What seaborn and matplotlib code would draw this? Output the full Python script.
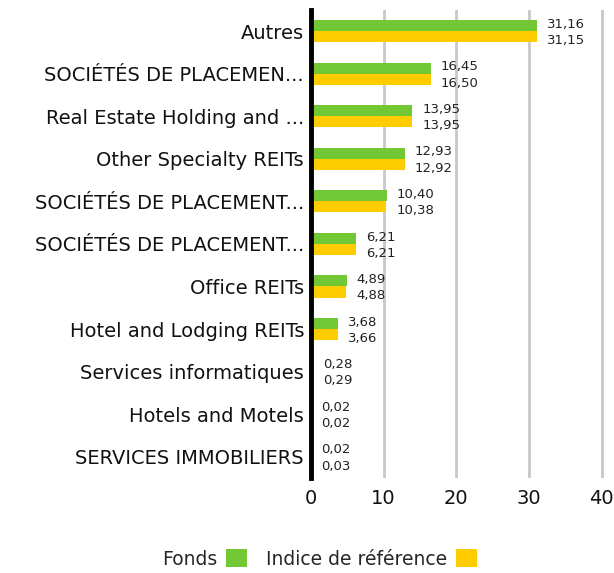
import pandas as pd
import matplotlib
matplotlib.use("Agg")
import matplotlib.pyplot as plt
import seaborn as sns
from matplotlib.patches import Patch

# data
categories = ["Autres", "SOCIÉTÉS DE PLACEMEN...", "Real Estate Holding and ...",
              "Other Specialty REITs", "SOCIÉTÉS DE PLACEMENT...", "SOCIÉTÉS DE PLACEMENT...",
              "Office REITs", "Hotel and Lodging REITs", "Services informatiques",
              "Hotels and Motels", "SERVICES IMMOBILIERS"]
fonds = [31.16, 16.45, 13.95, 12.93, 10.40, 6.21, 4.89, 3.68, 0.28, 0.02, 0.02]
indice = [31.15, 16.50, 13.95, 12.92, 10.38, 6.21, 4.88, 3.66, 0.29, 0.02, 0.03]
series = ["Fonds", "Indice de référence"]
colors = ["#72C834", "#FFCC00"]
x_ticks = [0, 10, 20, 30, 40]

sns.set_style("white")
plt.rcParams['font.family'] = ['DejaVu Sans']

# unique keys so repeated labels are not merged
keys = [f"c{i}" for i in range(len(categories))]
df = pd.DataFrame({
    "key": keys * 2,
    "value": fonds + indice,
    "serie": [series[0]] * len(keys) + [series[1]] * len(keys),
})

fig = plt.figure(figsize=(6.14, 5.73), dpi=100)
ax = fig.add_axes([0.5065, 0.166, 0.477, 0.8165])

sns.barplot(data=df, y="key", x="value", hue="serie", order=keys,
            hue_order=series, palette=colors, width=0.52, orient="h",
            saturation=1, legend=False, linewidth=0, ax=ax)

# value labels, green one pushed up, yellow one pushed down
for i in range(len(keys)):
    for vals, dy in [(fonds, 5.0), (indice, -6.8)]:
        ax.annotate(f"{vals[i]:.2f}".replace(".", ","), xy=(vals[i], i),
                    xytext=(7.2, dy), textcoords="offset points",
                    ha="left", va="center", fontsize=9.5, color="#222222")

ax.set_yticks(range(len(categories)))
ax.set_yticklabels(categories, fontsize=14, color="#111111")
ax.set_xlim(0, 40.3)
ax.set_xticks(x_ticks)
ax.set_xticklabels([str(t) for t in x_ticks], fontsize=14, color="#111111")
ax.set_ylim(len(categories) - 0.5, -0.5)
ax.set_xlabel("")
ax.set_ylabel("")
ax.tick_params(length=0, pad=5)
ax.tick_params(axis="x", pad=8)

for t in x_ticks[1:]:
    ax.axvline(t, color="#c8c8c8", linewidth=2, zorder=0)

for s in ["top", "right", "bottom"]:
    ax.spines[s].set_visible(False)
ax.spines["left"].set_color("black")
ax.spines["left"].set_linewidth(3.5)

handles = [Patch(facecolor=c, edgecolor="none") for c in colors]
fig.legend(handles, series, loc="lower center", bbox_to_anchor=(0.52, -0.022),
           ncol=2, frameon=False, fontsize=13.5, markerfirst=False,
           handlelength=1.1, handleheight=1.1, columnspacing=1.0, handletextpad=0.5)

fig.savefig("out.png", dpi=100)
